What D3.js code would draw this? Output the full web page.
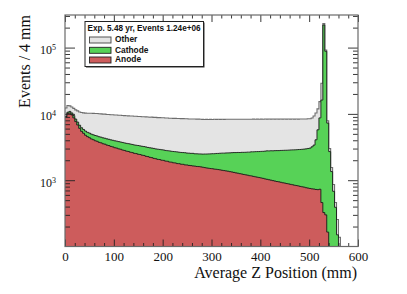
<!DOCTYPE html>
<html><head><meta charset="utf-8">
<script src="https://cdn.jsdelivr.net/npm/d3@7"></script>
<style>body{margin:0;background:#fff}svg{display:block}</style>
</head><body>
<svg id="c" width="407" height="294"></svg>
<script>
// ---- data (events per 4 mm bin, bin lower edges 0..596 mm) ----
const binWidth = 4;
const binLow = d3.range(0, 600, binWidth);

const anode = [
9000,10200,10300,9650,8700,7650,6800,6050,5450,5100,
4760,4540,4380,4190,4080,3930,3860,3720,3660,3540,
3490,3380,3330,3230,3180,3090,3050,2970,2930,2850,
2810,2740,2710,2640,2610,2540,2520,2460,2440,2380,
2360,2290,2270,2210,2190,2130,2110,2060,2050,2000,
1990,1940,1930,1880,1870,1830,1820,1780,1775,1740,
1735,1700,1695,1670,1660,1640,1630,1610,1605,1590,
1570,1550,1530,1515,1500,1490,1470,1460,1445,1430,
1410,1395,1380,1365,1345,1330,1310,1290,1275,1255,
1240,1220,1205,1190,1170,1160,1140,1125,1110,1095,
1080,1065,1045,1030,1015,1000,985,970,955,945,
930,915,905,890,880,865,855,840,830,820,
805,795,785,770,760,750,740,735,725,720,
730,460,325,300,165,0,0,0,0,0,
0,0,0,0,0,0,0,0,0,0];

const cathode = [
150,400,600,690,720,700,720,700,730,720,
750,740,760,770,760,790,780,800,790,810,
800,820,810,830,820,840,830,850,835,860,
840,855,845,870,850,860,845,875,850,865,
855,880,850,870,860,885,855,875,860,880,
865,870,855,885,860,880,870,890,865,880,
875,895,870,885,880,900,875,890,885,895,
905,930,950,975,995,1020,1040,1070,1090,1120,
1150,1165,1195,1215,1240,1270,1300,1320,1345,1360,
1390,1410,1430,1460,1480,1520,1540,1570,1590,1610,
1640,1660,1700,1740,1750,1780,1790,1820,1840,1850,
1880,1900,1920,1940,1960,1990,2010,2030,2050,2080,
2100,2130,2160,2200,2250,2300,2450,2650,3340,5030,
7970,15700,219000,87700,7100,2700,1350,680,390,150,
0,0,0,0,0,0,0,0,0,0];

const other = [
3100,2800,2300,2350,2700,3150,3600,3950,4300,4550,
4750,4950,5100,5250,5350,5400,5480,5520,5560,5580,
5620,5600,5660,5650,5700,5680,5720,5700,5750,5730,
5780,5760,5790,5770,5810,5800,5830,5790,5840,5820,
5860,5830,5870,5840,5880,5850,5890,5860,5880,5870,
5900,5860,5890,5850,5880,5860,5870,5840,5880,5850,
5860,5830,5870,5840,5850,5820,5860,5830,5840,5810,
5790,5770,5790,5760,5780,5740,5770,5730,5760,5720,
5740,5710,5730,5700,5720,5690,5710,5680,5700,5670,
5690,5660,5680,5650,5670,5640,5650,5620,5640,5610,
5620,5590,5610,5580,5590,5560,5580,5550,5560,5530,
5550,5520,5530,5500,5520,5490,5500,5470,5480,5450,
5460,5430,5440,5410,5420,5400,5500,5900,6240,6150,
6600,12800,11000,4000,600,300,200,180,70,105,
138,0,0,0,0,0,0,0,0,0];

const seriesNames = ["Other", "Cathode", "Anode"];
const xTicks = [0, 100, 200, 300, 400, 500, 600];
const yTicks = [1e3, 1e4, 1e5];
const legendTitle = "Exp. 5.48 yr, Events 1.24e+06";
const xTitle = "Average Z Position (mm)";
const yTitle = "Events / 4 mm";

// ---- layout ----
const L = 65, R = 358, T = 15, B = 246.5;
const svg = d3.select("#c");
const x = d3.scaleLinear().domain([0, 600]).range([L, R]);
const y = d3.scaleLog().domain([100, 3.1e5]).range([B, T]).clamp(true);

const colors = {
  Other:   {fill: "#e4e4e4", stroke: "#6e6e6e"},
  Cathode: {fill: "#57d257", stroke: "#1a1a1a"},
  Anode:   {fill: "#cd5c5c", stroke: "#1a1a1a"}
};

// stacked cumulative contours (THStack-like)
const cumAnode = anode.slice();
const cumCath = anode.map((v, i) => v + cathode[i]);
const cumAll = cumCath.map((v, i) => v + other[i]);
const layers = [
  {name: "Other", vals: cumAll},
  {name: "Cathode", vals: cumCath},
  {name: "Anode", vals: cumAnode}
];

svg.append("clipPath").attr("id", "clip")
  .append("rect").attr("x", L).attr("y", T).attr("width", R - L).attr("height", B - T);

function stepPoints(vals) {
  const pts = [];
  vals.forEach((v, i) => {
    pts.push([binLow[i], v]);
    pts.push([binLow[i] + binWidth, v]);
  });
  return pts;
}
const yv = v => v > 0 ? y(v) : B;
const area = d3.area().x(d => x(d[0])).y0(B).y1(d => yv(d[1]));
const line = d3.line().x(d => x(d[0])).y(d => yv(d[1]));

const plot = svg.append("g").attr("clip-path", "url(#clip)");
layers.forEach(l => {
  const pts = stepPoints(l.vals);
  plot.append("path").attr("d", area(pts)).attr("fill", colors[l.name].fill);
  plot.append("path").attr("d", line(pts)).attr("fill", "none")
    .attr("stroke", colors[l.name].stroke).attr("stroke-width", l.name === "Other" ? 1.1 : 0.9);
});

// ---- axes ----
const axisCol = "#222";
const minorX = d3.range(0, 601, 20).filter(v => v % 100 !== 0);
function styleAxis(g) {
  g.select(".domain").remove();
  g.selectAll(".tick line").attr("stroke", axisCol).attr("stroke-width", 0.9);
}
// bottom
svg.append("g").attr("transform", `translate(0,${B})`)
  .call(d3.axisBottom(x).tickValues(xTicks).tickSizeInner(-7).tickSizeOuter(0).tickPadding(5).tickFormat(d3.format("d")))
  .call(styleAxis)
  .call(g => g.selectAll("text").attr("font-family", "'Liberation Serif', 'Times New Roman', serif")
    .attr("font-size", "13px").attr("fill", "#111"));
svg.append("g").attr("transform", `translate(0,${B})`)
  .call(d3.axisBottom(x).tickValues(minorX).tickSizeInner(-3.5).tickSizeOuter(0).tickFormat(""))
  .call(styleAxis);
// top
svg.append("g").attr("transform", `translate(0,${T})`)
  .call(d3.axisTop(x).tickValues(xTicks).tickSizeInner(-7).tickSizeOuter(0).tickFormat(""))
  .call(styleAxis);
svg.append("g").attr("transform", `translate(0,${T})`)
  .call(d3.axisTop(x).tickValues(minorX).tickSizeInner(-3.5).tickSizeOuter(0).tickFormat(""))
  .call(styleAxis);

const minorY = [];
[100, 1000, 10000, 100000].forEach(d => {
  for (let k = 2; k <= 9; k++) { const v = k * d; if (v <= 3.1e5) minorY.push(v); }
});
// left
svg.append("g").attr("transform", `translate(${L},0)`)
  .call(d3.axisLeft(y).tickValues(yTicks).tickSizeInner(-10).tickSizeOuter(0).tickPadding(9).tickFormat(() => ""))
  .call(styleAxis)
  .call(g => g.selectAll(".tick text").each(function(d) {
    const t = d3.select(this);
    t.attr("font-family", "'Liberation Serif', 'Times New Roman', serif")
      .attr("font-size", "12px").attr("fill", "#111").attr("dy", "0.5em");
    t.append("tspan").text("10");
    t.append("tspan").attr("dy", "-0.5em").attr("font-size", "8px").text(Math.round(Math.log10(d)));
  }));
svg.append("g").attr("transform", `translate(${L},0)`)
  .call(d3.axisLeft(y).tickValues(minorY).tickSizeInner(-5).tickSizeOuter(0).tickFormat(""))
  .call(styleAxis);
// right
svg.append("g").attr("transform", `translate(${R},0)`)
  .call(d3.axisRight(y).tickValues(yTicks).tickSizeInner(-10).tickSizeOuter(0).tickFormat(""))
  .call(styleAxis);
svg.append("g").attr("transform", `translate(${R},0)`)
  .call(d3.axisRight(y).tickValues(minorY).tickSizeInner(-5).tickSizeOuter(0).tickFormat(""))
  .call(styleAxis);

// frame
svg.append("rect").attr("x", L).attr("y", T).attr("width", R - L).attr("height", B - T)
  .attr("fill", "none").attr("stroke", "#6a6a6a").attr("stroke-width", 1.2);

// titles
svg.append("text").attr("x", R - 1).attr("y", 278).attr("text-anchor", "end")
  .attr("font-family", "'Liberation Serif', 'Times New Roman', serif").attr("font-size", "16px")
  .attr("fill", "#111").text(xTitle);
svg.append("text").attr("transform", `translate(30,${T}) rotate(-90)`).attr("text-anchor", "end")
  .attr("font-family", "'Liberation Serif', 'Times New Roman', serif").attr("font-size", "16px")
  .attr("fill", "#111").text(yTitle);

// ---- legend ----
const lg = svg.append("g");
lg.append("rect").attr("x", 86).attr("y", 22.5).attr("width", 118.5).attr("height", 45)
  .attr("fill", "#333");
lg.append("rect").attr("x", 85).attr("y", 21.5).attr("width", 118.5).attr("height", 45)
  .attr("fill", "#fff").attr("stroke", "#222").attr("stroke-width", 1);
lg.append("text").attr("x", 87.5).attr("y", 30.8)
  .attr("font-family", "'Liberation Sans', Arial, sans-serif").attr("font-weight", "bold")
  .attr("font-size", "8.2px").attr("fill", "#111").text(legendTitle);
const swY = [37, 47.3, 57];
seriesNames.forEach((n, i) => {
  lg.append("rect").attr("x", 89.5).attr("y", swY[i]).attr("width", 21.5).attr("height", 6)
    .attr("fill", colors[n].fill).attr("stroke", n === "Other" ? "#444" : "#222").attr("stroke-width", 0.9);
  lg.append("text").attr("x", 115).attr("y", swY[i] + 5.4)
    .attr("font-family", "'Liberation Sans', Arial, sans-serif").attr("font-weight", "bold")
    .attr("font-size", "8.4px").attr("fill", "#111").text(n);
});
</script>
</body></html>
